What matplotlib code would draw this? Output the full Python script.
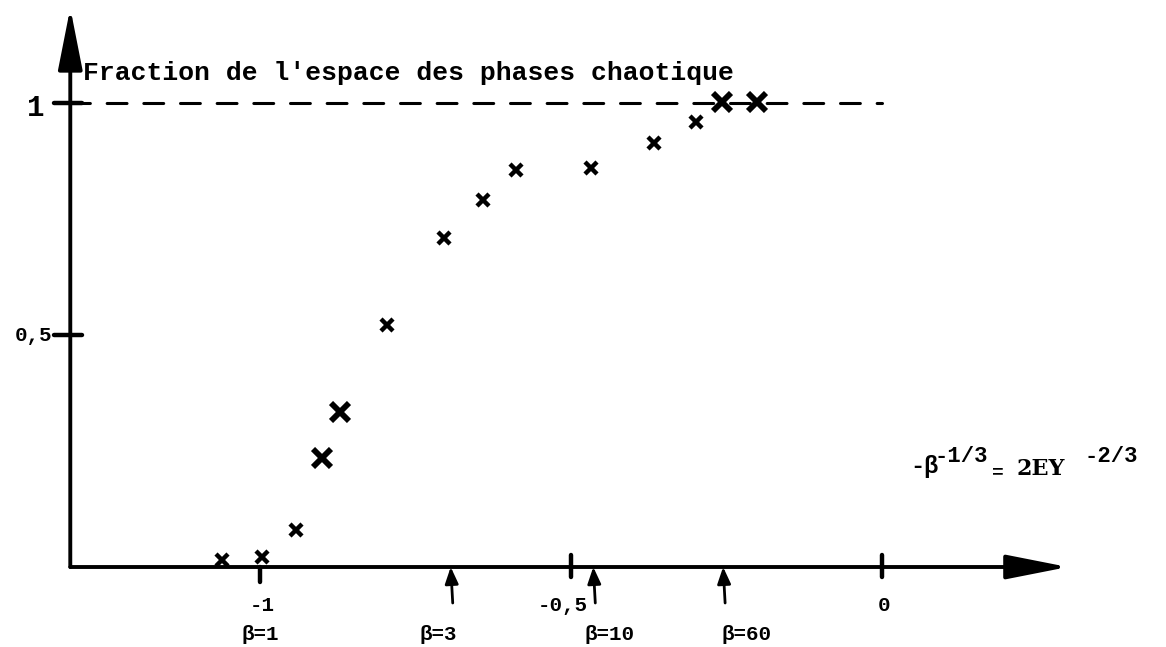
import numpy as np
import matplotlib.pyplot as plt

# abscisse -beta^(-1/3) et fraction chaotique mesuree
x_pts = [-1.061, -0.997, -0.942, -0.900, -0.871, -0.796, -0.704, -0.641,
         -0.588, -0.468, -0.367, -0.299, -0.257, -0.201]
y_pts = [0.015, 0.022, 0.080, 0.235, 0.334, 0.522, 0.709, 0.791,
         0.856, 0.860, 0.914, 0.959, 1.002, 1.002]
gros = [3, 4, 12, 13]   # croix tracees plus grosses

betas = [3, 10, 60]
beta_labels = ['β=1', 'β=3', 'β=10', 'β=60']
xticks = [-1, -0.5, 0]
xtick_labels = ['-1', '-0,5', '0']
yticks = [0.5, 1]
ytick_labels = ['0,5', '1']

W, H = 1166, 647
fig = plt.figure(figsize=(W / 100, H / 100), dpi=100)
ax = fig.add_axes([0, 0, 1, 1])
ax.set_xlim(-1.418, 0.4566)
ax.set_ylim(-0.1724, 1.222)
ax.axis('off')

mono = 'Liberation Mono'
x0 = -1.305   # position de l'axe vertical
px = 1 / 622  # un pixel en x
py = 1 / 464  # un pixel en y

# axes avec fleches
arrow_kw = dict(arrowstyle='-|>,head_length=3.8,head_width=0.75', lw=2.8,
                color='black', shrinkA=0, shrinkB=0, mutation_scale=10)
ax.annotate('', xy=(0.299, 0), xytext=(x0, 0), arrowprops=arrow_kw)
ax.annotate('', xy=(x0, 1.205), xytext=(x0, 0), arrowprops=arrow_kw)

# asymptote a 1
ax.plot([x0, 0], [1, 1], color='black', lw=2.2, ls=(0, (6.5, 5.5)),
        solid_capstyle='round', dash_capstyle='round')

# graduations
for xt, lab in zip(xticks, xtick_labels):
    lo = -15 * py if xt == -1 else -10 * py
    hi = 0 if xt == -1 else 12 * py
    ax.plot([xt, xt], [lo, hi], color='black', lw=3.2, solid_capstyle='round')
    ax.text(xt + (-8 * px if lab == '-0,5' else 2 * px), -38 * py, lab,
            ha='center', va='center', fontsize=15, family=mono, weight='bold')

for yt, lab in zip(yticks, ytick_labels):
    ax.plot([x0 - 16 * px, x0 + 12 * px], [yt, yt], color='black', lw=3.2,
            solid_capstyle='round')
ax.text(x0 - 37 * px, 0.5, '0,5', ha='center', va='center', fontsize=15,
        family=mono, weight='bold')
ax.text(x0 - 35 * px, 0.99, '1', ha='center', va='center', fontsize=21,
        family=mono, weight='bold')

# fleches des valeurs de beta
beta_x = [-b ** (-1 / 3) for b in betas]
small_kw = dict(arrowstyle='-|>,head_length=1.0,head_width=0.4', lw=2.0,
                color='black', shrinkA=0, shrinkB=0, mutation_scale=10)
for bx in beta_x:
    ax.annotate('', xy=(bx, 0), xytext=(bx + 2 * px, -36 * py),
                arrowprops=small_kw)

label_x = [-1] + beta_x
label_dx = [0, -12, 16, 23]
for lx, dx, lab in zip(label_x, label_dx, beta_labels):
    ax.text(lx + dx * px, -67 * py, lab, ha='center', va='center',
            fontsize=15, family=mono, weight='bold')

# points mesures
for i, (xv, yv) in enumerate(zip(x_pts, y_pts)):
    big = i in gros
    ax.plot(xv, yv, marker='x', color='black', ms=13 if big else 9,
            mew=4.2 if big else 3.2, ls='none')

# titres
ax.text(x0 + 13 * px, 1.0 + 23 * py, "Fraction de l'espace des phases chaotique",
        ha='left', va='baseline', fontsize=19, family=mono, weight='bold')

by = 94 * py   # ligne de base du libelle de l'axe x
ax.text(28 * px, by, '-β', ha='left', va='baseline', fontsize=17, family=mono,
        weight='bold')
ax.text(53 * px, by + 11 * py, '-1/3', ha='left', va='baseline', fontsize=16,
        family=mono, weight='bold')
ax.text(110 * px, by - 4 * py, '=', ha='left', va='baseline', fontsize=14,
        family=mono, weight='bold')
ax.text(135 * px, by - 2 * py, '2EY', ha='left', va='baseline', fontsize=16,
        family='DejaVu Serif', weight='bold')
ax.text(203 * px, by + 11 * py, '-2/3', ha='left', va='baseline', fontsize=16,
        family=mono, weight='bold')

fig.savefig('out.png', dpi=100)
